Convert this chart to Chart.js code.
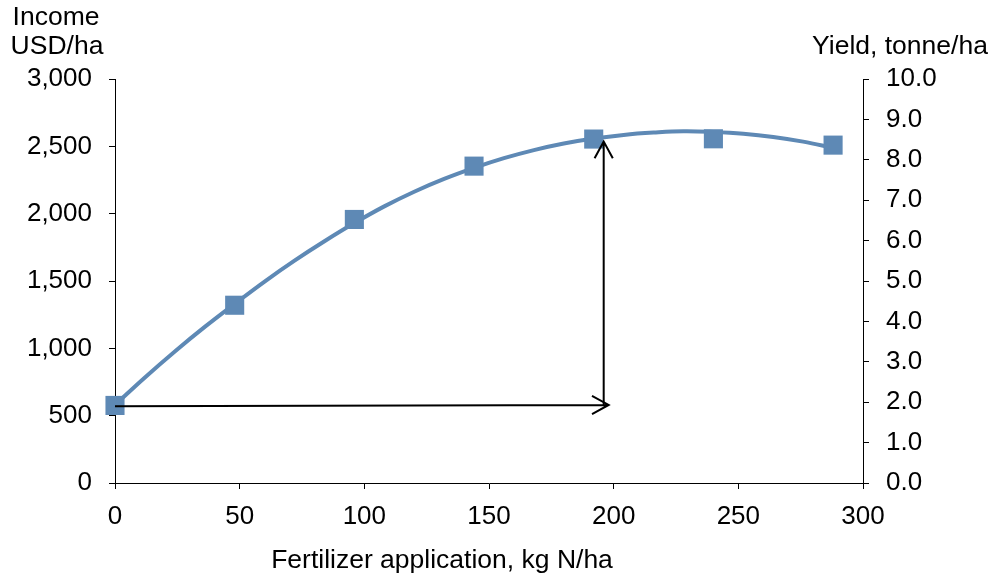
<!DOCTYPE html>
<html>
<head>
<meta charset="utf-8">
<script src="https://cdn.jsdelivr.net/npm/chart.js@4.4.1/dist/chart.umd.min.js"></script>
<style>
  html, body { margin: 0; padding: 0; background: #ffffff; }
  #wrap { width: 992px; height: 577px; position: relative; }
</style>
</head>
<body>
<div id="wrap"><canvas id="c" width="992" height="577"></canvas></div>
<script>
// Observed income at each nitrogen rate
const rates = [0, 48, 96, 144, 192, 240, 288];
const income = [576, 1320, 1957, 2353, 2554, 2556, 2509];

// Fitted response curve
const trendRates = [0, 12, 24, 36, 48, 60, 72, 84, 96, 108, 120, 132, 144,
                    156, 168, 180, 192, 204, 216, 228, 240, 252, 264, 276, 288];
const trendIncome = [580, 784, 977, 1159, 1330, 1496, 1651, 1795, 1930, 2054, 2163, 2258, 2340,
                     2412, 2472, 2521, 2558, 2585, 2602, 2612, 2607, 2594, 2570, 2535, 2488];

// Axis ticks
const xTicks = [0, 50, 100, 150, 200, 250, 300];
const incomeTicks = [0, 500, 1000, 1500, 2000, 2500, 3000];
const yieldTicks = [0, 1, 2, 3, 4, 5, 6, 7, 8, 9, 10];

// Reading arrows (fertilizer rate, income)
const arrowAcross = { from: [0, 570], to: [198, 580] };
const arrowUp = { from: [196, 580], to: [196, 2536] };

const FONT = "'Liberation Sans', Arial, sans-serif";
const BLUE = '#5E89B5';

const arrowsAndTitles = {
  id: 'arrowsAndTitles',
  afterDatasetsDraw(chart) {
    const { ctx, scales } = chart;
    const px = p => [scales.x.getPixelForValue(p[0]), scales.y.getPixelForValue(p[1])];
    const drawArrow = (a) => {
      const [x0, y0] = px(a.from);
      const [x1, y1] = px(a.to);
      const ang = Math.atan2(y1 - y0, x1 - x0);
      const len = 19, spread = 0.5;
      ctx.save();
      ctx.strokeStyle = '#000';
      ctx.lineWidth = 2;
      ctx.beginPath();
      ctx.moveTo(x0, y0);
      ctx.lineTo(x1, y1);
      ctx.moveTo(x1 - len * Math.cos(ang - spread), y1 - len * Math.sin(ang - spread));
      ctx.lineTo(x1, y1);
      ctx.lineTo(x1 - len * Math.cos(ang + spread), y1 - len * Math.sin(ang + spread));
      ctx.stroke();
      ctx.restore();
    };
    drawArrow(arrowAcross);
    drawArrow(arrowUp);
  },
  afterDraw(chart) {
    const { ctx } = chart;
    ctx.save();
    ctx.fillStyle = '#000';
    ctx.font = '26.5px ' + FONT;
    ctx.textBaseline = 'middle';
    ctx.textAlign = 'center';
    ctx.fillText('Income', 56, 18);
    ctx.fillText('USD/ha', 57, 47);
    ctx.fillText('Yield, tonne/ha', 900, 47);
    ctx.fillText('Fertilizer application, kg N/ha', 442, 561);
    ctx.restore();
  }
};

const tickGrid = (len) => ({
  display: true,
  drawOnChartArea: false,
  drawTicks: true,
  tickLength: len,
  tickColor: '#000',
  tickWidth: 1
});

new Chart(document.getElementById('c'), {
  type: 'scatter',
  data: {
    datasets: [
      {
        type: 'line',
        data: trendRates.map((x, i) => ({ x, y: trendIncome[i] })),
        borderColor: BLUE,
        borderWidth: 4,
        pointRadius: 0,
        tension: 0.4,
        fill: false,
        order: 2,
        clip: false
      },
      {
        type: 'scatter',
        data: rates.map((x, i) => ({ x, y: income[i] })),
        pointStyle: 'rect',
        pointRadius: 13.5,
        backgroundColor: BLUE,
        borderColor: BLUE,
        borderWidth: 0,
        showLine: false,
        order: 1,
        clip: false
      }
    ]
  },
  options: {
    responsive: false,
    animation: false,
    devicePixelRatio: 1,
    layout: { padding: { top: 79, left: 0, right: 0, bottom: 0 } },
    plugins: { legend: { display: false }, tooltip: { enabled: false } },
    scales: {
      x: {
        type: 'linear',
        position: 'bottom',
        min: 0, max: 300,
        afterBuildTicks: s => { s.ticks = xTicks.map(v => ({ value: v })); },
        afterFit: s => { s.height = 94; },
        grid: tickGrid(6),
        border: { display: true, color: '#000', width: 1 },
        ticks: { color: '#000', font: { family: FONT, size: 26 }, padding: 12, maxRotation: 0 }
      },
      y: {
        type: 'linear',
        position: 'left',
        min: 0, max: 3000,
        afterBuildTicks: s => { s.ticks = incomeTicks.map(v => ({ value: v })); },
        afterFit: s => { s.width = 115; },
        grid: tickGrid(6),
        border: { display: true, color: '#000', width: 1 },
        ticks: {
          color: '#000', font: { family: FONT, size: 26 }, padding: 17,
          callback: v => v.toLocaleString('en-US')
        }
      },
      y2: {
        type: 'linear',
        position: 'right',
        min: 0, max: 10,
        afterBuildTicks: s => { s.ticks = yieldTicks.map(v => ({ value: v })); },
        afterFit: s => { s.width = 129; },
        grid: tickGrid(6),
        border: { display: true, color: '#000', width: 1 },
        ticks: {
          color: '#000', font: { family: FONT, size: 26 }, padding: 17,
          callback: v => Number(v).toFixed(1)
        }
      }
    }
  },
  plugins: [arrowsAndTitles]
});
</script>
</body>
</html>
